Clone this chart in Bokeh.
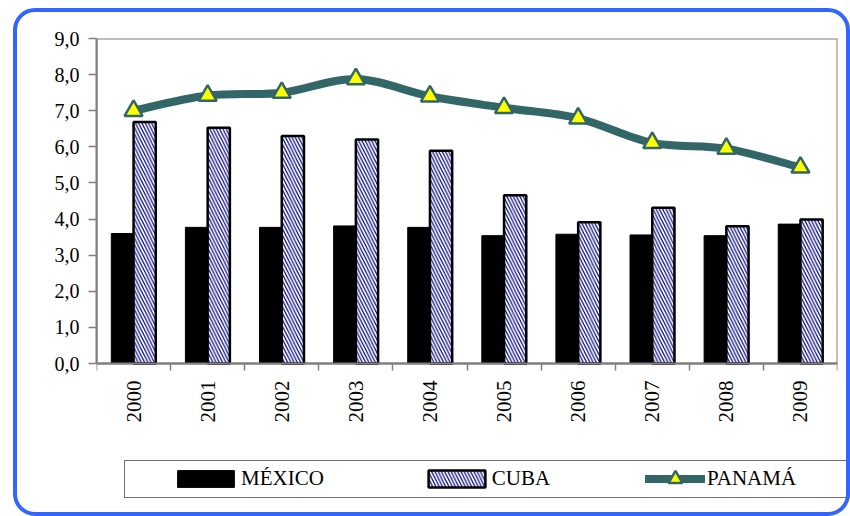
import numpy as np
from bokeh.plotting import figure
from bokeh.models import (ColumnDataSource, FixedTicker, CustomJSTickFormatter,
                          Legend, LegendItem, Range1d, InlineStyleSheet)
from bokeh.transform import dodge
from bokeh.embed import file_html
from bokeh.resources import INLINE

# ---- data ----
years = [2000, 2001, 2002, 2003, 2004, 2005, 2006, 2007, 2008, 2009]
mexico = [3.60, 3.77, 3.77, 3.81, 3.77, 3.54, 3.58, 3.56, 3.54, 3.86]
cuba = [6.69, 6.53, 6.30, 6.20, 5.89, 4.66, 3.91, 4.31, 3.80, 3.99]
panama = [7.00, 7.42, 7.50, 7.88, 7.40, 7.08, 6.79, 6.11, 5.95, 5.43]
y_ticks = [0, 1, 2, 3, 4, 5, 6, 7, 8, 9]
series_labels = ["MÉXICO", "CUBA", "PANAMÁ"]

TEAL = "#336666"
GRAY = "#808080"
FONT = "Times New Roman"

FRAME_TOP, ZERO_PX, FRAME_BOTTOM = 38, 363, 506
ymax = y_ticks[-1]
ymin = -ymax * (FRAME_BOTTOM - ZERO_PX) / (ZERO_PX - FRAME_TOP)

src = ColumnDataSource(dict(year=years, mexico=mexico, cuba=cuba, panama=panama))

p = figure(width=850, height=516,
           x_range=Range1d(years[0] - 0.5, years[-1] + 0.5),
           y_range=Range1d(ymin, ymax),
           output_backend="svg", toolbar_location=None,
           min_border_left=96, min_border_right=13,
           min_border_top=FRAME_TOP, min_border_bottom=516 - FRAME_BOTTOM)
p.background_fill_color = "white"
p.border_fill_color = "white"
p.xgrid.visible = False
p.ygrid.visible = False
p.outline_line_color = None

# plot-area border
p.quad(left=[years[0] - 0.5], right=[years[-1] + 0.5], bottom=[y_ticks[0]],
       top=[y_ticks[-1]], fill_color=None, line_color=GRAY, line_width=2)

# bars
r_mex = p.vbar(x=dodge("year", -0.15), top="mexico", width=0.3, source=src,
               fill_color="black", line_color="black", line_width=1)
r_cub = p.vbar(x=dodge("year", 0.15), top="cuba", width=0.3, source=src,
               fill_color="white", line_color="black", line_width=2.5,
               hatch_pattern="\\", hatch_color="#000080", hatch_scale=6.5,
               hatch_weight=1.2)

# smoothed Panama line (Catmull-Rom style bezier segments)
xs = np.array(years, dtype=float)
ys = np.array(panama, dtype=float)
xp = np.concatenate([[xs[0]], xs, [xs[-1]]])
yp = np.concatenate([[ys[0]], ys, [ys[-1]]])
n = len(xs)
cx0 = xs[:-1] + (xp[2:n + 1] - xp[0:n - 1]) / 6
cy0 = ys[:-1] + (yp[2:n + 1] - yp[0:n - 1]) / 6
cx1 = xs[1:] - (xp[3:n + 2] - xp[1:n]) / 6
cy1 = ys[1:] - (yp[3:n + 2] - yp[1:n]) / 6
bsrc = ColumnDataSource(dict(x0=xs[:-1], y0=ys[:-1], x1=xs[1:], y1=ys[1:],
                             cx0=cx0, cy0=cy0, cx1=cx1, cy1=cy1))
r_line = p.bezier(x0="x0", y0="y0", x1="x1", y1="y1", cx0="cx0", cy0="cy0",
                  cx1="cx1", cy1="cy1", source=bsrc, line_color=TEAL,
                  line_width=8, line_cap="round")
r_pts = p.scatter(x="year", y="panama", source=src, marker="triangle", size=18,
                  fill_color="#FFFF00", line_color=TEAL, line_width=2.5)

# axes
p.xaxis.fixed_location = 0
p.xaxis.ticker = FixedTicker(ticks=years,
                             minor_ticks=[y - 0.5 for y in years] + [years[-1] + 0.5])
p.xaxis.major_label_overrides = {y: str(y) for y in years}
p.xaxis.major_label_orientation = np.pi / 2
p.xaxis.major_tick_line_color = None
p.xaxis.major_tick_out = 7
p.xaxis.major_tick_in = 0
p.xaxis.minor_tick_line_color = GRAY
p.xaxis.minor_tick_line_width = 1.5
p.xaxis.minor_tick_out = 7
p.xaxis.minor_tick_in = 0
p.xaxis.major_label_standoff = 10
p.xaxis.major_label_text_font = FONT
p.xaxis.major_label_text_font_size = "21px"
p.xaxis.major_label_text_color = "black"
p.xaxis.axis_line_color = GRAY
p.xaxis.axis_line_width = 2

p.yaxis.bounds = (y_ticks[0], y_ticks[-1])
p.yaxis.ticker = FixedTicker(ticks=y_ticks)
p.yaxis.formatter = CustomJSTickFormatter(code="return tick.toFixed(1).replace('.', ',');")
p.yaxis.major_tick_out = 8
p.yaxis.major_tick_in = 0
p.yaxis.major_tick_line_color = GRAY
p.yaxis.major_tick_line_width = 1.5
p.yaxis.minor_tick_line_color = None
p.yaxis.major_label_standoff = 9
p.yaxis.major_label_text_font = FONT
p.yaxis.major_label_text_font_size = "20px"
p.yaxis.major_label_text_color = "black"
p.yaxis.axis_line_color = GRAY
p.yaxis.axis_line_width = 2

# legends (inside the lower part of the frame)
legend1 = Legend(items=[LegendItem(label=series_labels[0], renderers=[r_mex]),
                        LegendItem(label=series_labels[1], renderers=[r_cub])],
                 location=(68, 9.5), orientation="horizontal",
                 border_line_alpha=0, background_fill_alpha=0,
                 padding=6, margin=0, spacing=97, glyph_width=71, glyph_height=21,
                 label_standoff=-4, label_text_font=FONT,
                 label_text_font_size="21px", label_text_color="black")
legend2 = Legend(items=[LegendItem(label=series_labels[2], renderers=[r_line, r_pts])],
                 location=(543, 4), orientation="horizontal",
                 border_line_alpha=0, background_fill_alpha=0,
                 padding=6, margin=0, glyph_width=60, glyph_height=35,
                 label_standoff=2, label_text_font=FONT,
                 label_text_font_size="21px", label_text_color="black")
p.add_layout(legend1)
p.add_layout(legend2)

# decorative frames: outer rounded blue border and legend box
css = """
:host { position: relative; }
:host::after { content: ""; position: absolute; left: 13px; top: 8px;
  width: 837px; height: 508px; border: 4px solid #3366FF; border-radius: 22px;
  box-sizing: border-box; pointer-events: none; z-index: 10; }
:host::before { content: ""; position: absolute; left: 124px; top: 460px;
  width: 726px; height: 38px; border: 1.5px solid #707070;
  box-sizing: border-box; pointer-events: none; z-index: 10; }
"""
p.stylesheets = [InlineStyleSheet(css=css)]

open("out.html", "w").write(file_html(p, INLINE))
